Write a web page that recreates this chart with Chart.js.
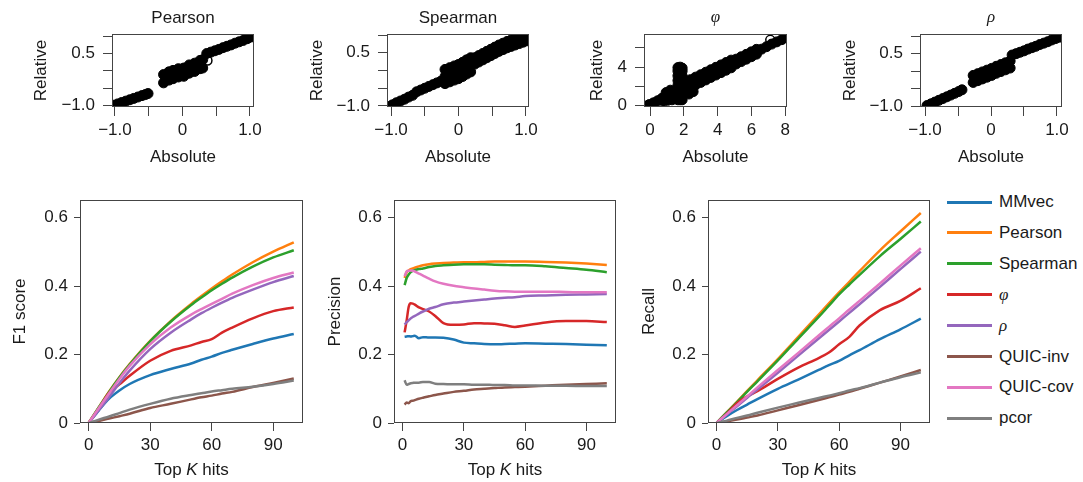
<!DOCTYPE html>
<html>
<head>
<meta charset="utf-8">
<script src="https://cdn.jsdelivr.net/npm/chart.js@4.4.1/dist/chart.umd.min.js"></script>
<style>
  body { margin: 0; background: #fff; width: 1083px; height: 482px; position: relative; overflow: hidden; }
  canvas { position: absolute; }
  .lg { position: absolute; left: 947px; height: 20px; display: flex; align-items: center;
        font: 17px 'Liberation Sans', Arial, sans-serif; color: #1a1a1a; white-space: nowrap; }
  .lg span.sw { display: inline-block; width: 45px; height: 3px; margin-right: 7px; }
  .lg i { font-family: 'Liberation Serif', 'DejaVu Serif', serif; }
</style>
</head>
<body>
<script>
const FONT = "'Liberation Sans', Arial, sans-serif";
const SERIF = "'Liberation Serif', 'DejaVu Serif', serif";
const INK = '#1a1a1a';
const FRAME = '#444';

// methods, in legend order
const methods = ['MMvec', 'Pearson', 'Spearman', 'φ', 'ρ', 'QUIC-inv', 'QUIC-cov', 'pcor'];
const italicMethods = ['φ', 'ρ'];
const colors = ['#1f77b4', '#ff7f0e', '#2ca02c', '#d62728', '#9467bd', '#8c564b', '#e377c2', '#7f7f7f'];

// ---- bottom row: F1 / precision / recall against top K hits ----
const kGrid = [0, 5, 10, 15, 20, 30, 40, 50, 55, 60, 65, 70, 80, 90, 100];
const kPrec = [1, 2, 3, 4, 5, 6, 8, 10, 13, 16, 20, 25, 30, 35, 40, 45, 50, 55, 60, 70, 80, 90, 100];
const kTicks = [0, 30, 60, 90];
const scoreTicks = [0, 0.2, 0.4, 0.6];
const scoreLabels = ['0', '0.2', '0.4', '0.6'];

const f1Values = [
  [0, .037, .071, .095, .114, .140, .158, .174, .185, .194, .205, .214, .231, .247, .260], // MMvec
  [0, .046, .092, .134, .172, .240, .298, .348, .371, .393, .414, .434, .470, .501, .528], // Pearson
  [0, .046, .091, .133, .171, .239, .296, .345, .367, .388, .407, .425, .457, .484, .505], // Spearman
  [0, .042, .088, .113, .138, .182, .211, .227, .237, .245, .264, .279, .306, .327, .338], // phi
  [0, .038, .076, .116, .153, .216, .264, .303, .321, .337, .352, .366, .390, .412, .430], // rho
  [0, .006, .013, .020, .027, .044, .056, .069, .075, .080, .086, .091, .105, .117, .130], // QUIC-inv
  [0, .044, .087, .129, .167, .230, .279, .317, .333, .348, .363, .378, .403, .424, .440], // QUIC-cov
  [0, .010, .019, .029, .039, .056, .071, .082, .087, .092, .096, .100, .106, .114, .124]  // pcor
];

const precisionValues = [
  [.252, .253, .254, .253, .254, .255, .248, .251, .250, .250, .249, .244, .235, .233, .231, .230, .231, .232, .233, .232, .231, .229, .227],
  [.424, .441, .446, .450, .452, .454, .458, .461, .464, .466, .468, .469, .470, .470, .471, .472, .472, .472, .472, .471, .469, .466, .462],
  [.403, .424, .434, .441, .445, .447, .450, .452, .456, .459, .461, .463, .464, .464, .464, .463, .462, .461, .461, .458, .453, .448, .441],
  [.265, .300, .340, .350, .349, .346, .338, .333, .326, .313, .292, .287, .288, .292, .291, .290, .286, .281, .285, .294, .298, .298, .295],
  [.288, .295, .300, .306, .310, .313, .320, .326, .334, .339, .347, .352, .355, .358, .361, .364, .366, .368, .371, .373, .375, .376, .377],
  [.054, .060, .058, .064, .065, .067, .071, .074, .078, .082, .086, .091, .094, .098, .100, .102, .104, .105, .106, .109, .112, .114, .116],
  [.429, .443, .445, .446, .445, .443, .437, .431, .422, .414, .407, .401, .397, .393, .390, .387, .385, .384, .384, .384, .383, .382, .382],
  [.125, .112, .114, .116, .117, .118, .118, .120, .120, .115, .114, .113, .113, .112, .112, .111, .111, .110, .110, .109, .109, .108, .108]
];

const recallValues = [
  [0, .020, .038, .054, .070, .100, .127, .155, .169, .182, .198, .213, .245, .274, .305],
  [0, .031, .062, .094, .125, .187, .252, .317, .350, .382, .413, .444, .505, .560, .614],
  [0, .031, .061, .092, .122, .183, .247, .310, .343, .376, .405, .433, .488, .538, .589],
  [0, .027, .058, .078, .093, .129, .162, .190, .206, .230, .252, .285, .330, .357, .394],
  [0, .025, .049, .074, .098, .147, .197, .247, .272, .297, .322, .347, .398, .450, .501],
  [0, .005, .010, .016, .022, .037, .052, .067, .075, .083, .091, .100, .118, .136, .155],
  [0, .026, .052, .078, .104, .155, .205, .256, .281, .306, .332, .357, .408, .460, .511],
  [0, .007, .015, .022, .030, .045, .059, .073, .080, .087, .095, .102, .118, .134, .148]
];

// ---- top row: relative vs absolute correlation scatter ----
const unitTicks = [-1, -0.5, 0, 0.5, 1];
const unitXLabels = ['−1.0', '', '0', '', '1.0'];
const unitYLabels = ['−1.0', '', '', '0.5', ''];
const phiXTicks = [0, 2, 4, 6, 8];
const phiXLabels = ['0', '2', '4', '6', '8'];
const phiYTicks = [0, 2, 4, 6];
const phiYLabels = ['0', '', '4', ''];

const pearsonX = [
  -1.02, -0.96, -0.9, -0.84, -0.78, -0.72, -0.66, -0.6, -0.55, -0.51,
  -0.28, -0.2, -0.14, -0.06, 0.02, 0.1, 0.18, 0.26, 0.3,
  -0.28, -0.2, -0.14, -0.06, 0.02, 0.1, 0.18, 0.26, 0.3,
  -0.24, -0.1, 0.06, 0.22,
  0.36, 0.42, 0.48, 0.54, 0.6, 0.66, 0.72, 0.78, 0.84, 0.9, 0.96, 1.02
];
const pearsonY = [
  -1.0, -0.96, -0.92, -0.88, -0.84, -0.8, -0.76, -0.72, -0.69, -0.66,
  -0.11, -0.03, 0.01, 0.06, 0.08, 0.17, 0.22, 0.3, 0.32,
  -0.35, -0.27, -0.23, -0.18, -0.16, -0.07, -0.02, 0.06, 0.08,
  -0.2, -0.09, 0.0, 0.14,
  0.5, 0.54, 0.58, 0.62, 0.67, 0.71, 0.75, 0.8, 0.84, 0.88, 0.93, 0.98
];
const pearsonRingX = [0.37];
const pearsonRingY = [0.3];

const spearmanX = [
  -1.04, -0.98, -0.92, -0.86, -0.8, -0.74, -0.68,
  -0.62, -0.56, -0.5, -0.44, -0.38, -0.32, -0.26,
  -0.2, -0.13, -0.06, 0, 0.06, 0.12, 0.18,
  -0.2, -0.13, -0.06, 0, 0.06, 0.12, 0.18,
  -0.2, -0.13, -0.06, 0, 0.06, 0.12, 0.18,
  0.24, 0.3, 0.36, 0.42, 0.48, 0.54, 0.6, 0.66, 0.72, 0.78, 0.84, 0.9, 0.96, 1.02,
  0.24, 0.3, 0.36, 0.42, 0.48, 0.54, 0.6, 0.66, 0.72, 0.78, 0.84, 0.9, 0.96, 1.02
];
const spearmanY = [
  -1.02, -0.97, -0.91, -0.86, -0.81, -0.75, -0.7,
  -0.6, -0.55, -0.5, -0.45, -0.4, -0.35, -0.3,
  -0.17, -0.12, -0.07, -0.03, 0.03, 0.1, 0.16,
  0.03, 0.08, 0.13, 0.17, 0.23, 0.3, 0.36,
  -0.37, -0.32, -0.27, -0.23, -0.17, -0.1, -0.04,
  0.36, 0.42, 0.48, 0.54, 0.6, 0.66, 0.72, 0.77, 0.82, 0.86, 0.9, 0.94, 0.98, 1.02,
  0.18, 0.24, 0.3, 0.36, 0.42, 0.48, 0.54, 0.59, 0.64, 0.68, 0.72, 0.76, 0.8, 0.84
];

const phiX = [
  -0.3, -0.05, 0.2, 0.45, 0.7, 0.95, 1.2, 0.8, 1.05, 1.3, 0.95, 1.2,
  1.65, 1.65, 1.65, 1.65, 1.65, 1.65, 1.65, 1.65,
  1.78, 1.78, 1.78, 1.78, 1.78, 1.78, 1.78, 1.78,
  1.9, 1.9, 1.9, 1.9, 1.9, 1.9, 1.9, 1.9,
  2.3, 2.55, 2.45, 2.2, 1.45, 1.45,
  2.4, 2.7, 3.0, 3.3, 3.6, 3.9, 4.2, 4.5, 4.8, 5.1, 5.4, 5.7, 6.0, 6.3, 6.6, 6.9, 7.2, 7.5, 7.8, 8.05,
  2.4, 2.7, 3.0, 3.3, 3.6, 3.9, 4.2, 4.5, 4.8, 5.1, 5.4, 5.7, 6.0, 6.3,
  2.4, 2.7, 3.0, 3.3, 3.6, 3.9, 4.2, 4.5, 4.8, 5.1, 5.4, 5.7, 6.0, 6.3
];
const phiY = [
  -0.05, 0.1, 0.28, 0.5, 0.75, 0.95, 1.15, 0.45, 0.55, 0.6, 1.35, 1.6,
  0.6, 1.1, 1.6, 2.1, 2.6, 3.1, 3.6, 3.95,
  0.6, 1.1, 1.6, 2.1, 2.6, 3.1, 3.6, 4.0,
  0.6, 1.1, 1.6, 2.1, 2.6, 3.1, 3.6, 3.9,
  1.2, 1.45, 1.9, 1.6, 0.9, 1.5,
  2.3, 2.56, 2.81, 3.07, 3.33, 3.58, 3.83, 4.08, 4.33, 4.58, 4.83, 5.08, 5.34, 5.6, 5.87, 6.13, 6.4, 6.63, 6.86, 7.1,
  2.7, 2.96, 3.21, 3.47, 3.73, 3.98, 4.23, 4.48, 4.73, 4.83, 5.08, 5.33, 5.59, 5.85,
  1.9, 2.16, 2.41, 2.67, 2.93, 3.18, 3.43, 3.68, 3.93, 4.33, 4.58, 4.83, 5.09, 5.35
];
const phiRingX = [7.12];
const phiRingY = [6.84];

const rhoX = [
  -0.97, -0.91, -0.85, -0.79, -0.73, -0.67, -0.61, -0.55, -0.49, -0.44,
  -0.27, -0.2, -0.13, -0.06, 0.01, 0.08, 0.15, 0.22, 0.29,
  -0.27, -0.2, -0.13, -0.06, 0.01, 0.08, 0.15, 0.22, 0.29,
  0.32, 0.38, 0.44, 0.5, 0.56, 0.62, 0.68, 0.74, 0.8, 0.86, 0.92, 0.98, 1.04
];
const rhoY = [
  -0.98, -0.93, -0.88, -0.83, -0.78, -0.73, -0.68, -0.63, -0.58, -0.53,
  -0.12, -0.07, -0.02, 0.03, 0.08, 0.14, 0.19, 0.24, 0.29,
  -0.32, -0.27, -0.22, -0.17, -0.12, -0.06, -0.01, 0.04, 0.09,
  0.46, 0.5, 0.54, 0.58, 0.63, 0.67, 0.71, 0.76, 0.8, 0.84, 0.89, 0.93, 0.97
];

function makeCanvas(rect) {
  const c = document.createElement('canvas');
  c.width = rect[2] - rect[0];
  c.height = rect[3] - rect[1];
  c.style.left = rect[0] + 'px';
  c.style.top = rect[1] + 'px';
  document.body.appendChild(c);
  return c;
}

// box, titles and axis labels drawn around the chart area
function makeFrame(s) {
  return {
    id: 'frame',
    afterDraw(chart) {
      const { ctx, chartArea: a } = chart;
      const l = Math.round(a.left) + 0.5, t = Math.round(a.top) + 0.5;
      const r = Math.round(a.right) - 0.5, b = Math.round(a.bottom) - 0.5;
      ctx.save();
      ctx.strokeStyle = FRAME;
      ctx.lineWidth = 1;
      ctx.strokeRect(l, t, r - l, b - t);
      ctx.fillStyle = INK;
      ctx.textBaseline = 'middle';
      const cx = (a.left + a.right) / 2, cy = (a.top + a.bottom) / 2;
      if (s.title) {
        ctx.font = s.titleFont;
        ctx.textAlign = 'center';
        ctx.fillText(s.title, cx, a.top - s.titleGap);
      }
      let w = 0;
      s.xTitle.forEach(p => { ctx.font = p[1]; w += ctx.measureText(p[0]).width; });
      let x = cx - w / 2;
      ctx.textAlign = 'left';
      s.xTitle.forEach(p => {
        ctx.font = p[1];
        ctx.fillText(p[0], x, a.bottom + s.xTitleGap);
        x += ctx.measureText(p[0]).width;
      });
      ctx.translate(a.left - s.yTitleGap, cy);
      ctx.rotate(-Math.PI / 2);
      ctx.textAlign = 'center';
      ctx.font = `17px ${FONT}`;
      ctx.fillText(s.yTitle, 0, 0);
      ctx.restore();
    }
  };
}

function axis(min, max, ticks, labels, size, tickLen, pad, horizontal) {
  return {
    type: 'linear', min, max,
    afterBuildTicks: sc => { sc.ticks = ticks.map(v => ({ value: v })); },
    afterFit: sc => { if (horizontal) sc.height = size; else sc.width = size; },
    ticks: {
      autoSkip: false, maxRotation: 0, padding: pad, color: INK,
      font: { family: FONT, size: 17 },
      callback: (v, i) => labels[i]
    },
    grid: { drawOnChartArea: false, drawTicks: true, tickLength: tickLen, color: FRAME, lineWidth: 1 },
    border: { display: false }
  };
}

function build(p) {
  const c = makeCanvas(p.canvas);
  const [cl, ct, cr, cb] = p.canvas;
  const [bl, bt, br, bb] = p.box;
  new Chart(c, {
    type: p.type,
    data: { datasets: p.datasets },
    options: {
      responsive: false,
      animation: false,
      events: [],
      layout: { padding: { left: 0, top: bt - ct, right: cr - br, bottom: 0 } },
      plugins: { legend: { display: false }, tooltip: { enabled: false } },
      scales: {
        x: axis(p.xMin, p.xMax, p.xTicks, p.xLabels, cb - bb, p.xTick, p.xPad, true),
        y: axis(p.yMin, p.yMax, p.yTicks, p.yLabels, bl - cl, p.yTick, p.yPad, false)
      }
    },
    plugins: [makeFrame(p.frame)]
  });
}

function blobSets(xs, ys, rx, ry) {
  const sets = [{
    data: xs.map((x, i) => ({ x, y: ys[i] })),
    pointRadius: 5, pointBorderWidth: 1,
    pointBackgroundColor: '#000', pointBorderColor: '#000', clip: 0
  }];
  if (rx) sets.push({
    data: rx.map((x, i) => ({ x, y: ry[i] })),
    pointRadius: 4.5, pointBorderWidth: 1.5,
    pointBackgroundColor: '#fff', pointBorderColor: '#000', clip: 0
  });
  return sets;
}

const topFont = `17px ${FONT}`;
const greekFont = `italic 17px ${SERIF}`;
const absTitle = [['Absolute', topFont]];

const scatterPanels = [
  { title: 'Pearson', font: topFont, canvas: [0, 0, 275, 175], box: [112, 34, 254, 107],
    xs: pearsonX, ys: pearsonY, rx: pearsonRingX, ry: pearsonRingY,
    xMin: -1.044, xMax: 1.06, yMin: -1.05, yMax: 1.066,
    xTicks: unitTicks, xLabels: unitXLabels, yTicks: unitTicks, yLabels: unitYLabels, yGap: 71 },
  { title: 'Spearman', font: topFont, canvas: [275, 0, 560, 175], box: [387, 34, 529, 107],
    xs: spearmanX, ys: spearmanY,
    xMin: -1.06, xMax: 1.045, yMin: -1.03, yMax: 1.03,
    xTicks: unitTicks, xLabels: unitXLabels, yTicks: unitTicks, yLabels: unitYLabels, yGap: 70 },
  { title: 'φ', font: greekFont, canvas: [560, 0, 830, 175], box: [644, 34, 787, 107],
    xs: phiX, ys: phiY, rx: phiRingX, ry: phiRingY,
    xMin: -0.36, xMax: 8.11, yMin: -0.15, yMax: 7.45,
    xTicks: phiXTicks, xLabels: phiXLabels, yTicks: phiYTicks, yLabels: phiYLabels, yGap: 47 },
  { title: 'ρ', font: greekFont, canvas: [830, 0, 1083, 175], box: [920, 34, 1062, 107],
    xs: rhoX, ys: rhoY,
    xMin: -1.076, xMax: 1.076, yMin: -1.02, yMax: 1.06,
    xTicks: unitTicks, xLabels: unitXLabels, yTicks: unitTicks, yLabels: unitYLabels, yGap: 70 }
];

scatterPanels.forEach(s => build({
  type: 'scatter', canvas: s.canvas, box: s.box,
  datasets: blobSets(s.xs, s.ys, s.rx, s.ry),
  xMin: s.xMin, xMax: s.xMax, yMin: s.yMin, yMax: s.yMax,
  xTicks: s.xTicks, xLabels: s.xLabels, yTicks: s.yTicks, yLabels: s.yLabels,
  xTick: 9, xPad: 4, yTick: 9, yPad: 8,
  frame: { title: s.title, titleFont: s.font, titleGap: 16, xTitle: absTitle, xTitleGap: 50,
           yTitle: 'Relative', yTitleGap: s.yGap }
}));

function lineSets(ks, values) {
  return methods.map((m, i) => ({
    label: m,
    data: ks.map((k, j) => ({ x: k, y: values[i][j] })),
    borderColor: colors[i], borderWidth: 2.5,
    pointRadius: 0, cubicInterpolationMode: 'monotone',
    order: methods.length - i
  }));
}

const topKTitle = [['Top ', topFont], ['K', `italic 17px ${FONT}`], [' hits', topFont]];

const linePanels = [
  { yTitle: 'F1 score', canvas: [0, 180, 320, 482], box: [80, 200, 303, 423], ks: kGrid, values: f1Values, yGap: 60 },
  { yTitle: 'Precision', canvas: [320, 180, 640, 482], box: [394, 200, 616, 423], ks: kPrec, values: precisionValues, yGap: 59 },
  { yTitle: 'Recall', canvas: [640, 180, 940, 482], box: [708, 200, 930, 423], ks: kGrid, values: recallValues, yGap: 59 }
];

linePanels.forEach(s => build({
  type: 'line', canvas: s.canvas, box: s.box,
  datasets: lineSets(s.ks, s.values),
  xMin: -4.2, xMax: 104.5, yMin: 0, yMax: 0.652,
  xTicks: kTicks, xLabels: kTicks.map(String), yTicks: scoreTicks, yLabels: scoreLabels,
  xTick: 8, xPad: 4, yTick: 6, yPad: 6,
  frame: { xTitle: topKTitle, xTitleGap: 47, yTitle: s.yTitle, yTitleGap: s.yGap }
}));

// legend
methods.forEach((m, i) => {
  const row = document.createElement('div');
  row.className = 'lg';
  row.style.top = (192 + i * 30.9) + 'px';
  const sw = document.createElement('span');
  sw.className = 'sw';
  sw.style.background = colors[i];
  row.appendChild(sw);
  const label = document.createElement(italicMethods.includes(m) ? 'i' : 'span');
  label.textContent = m;
  row.appendChild(label);
  document.body.appendChild(row);
});
</script>
</body>
</html>
